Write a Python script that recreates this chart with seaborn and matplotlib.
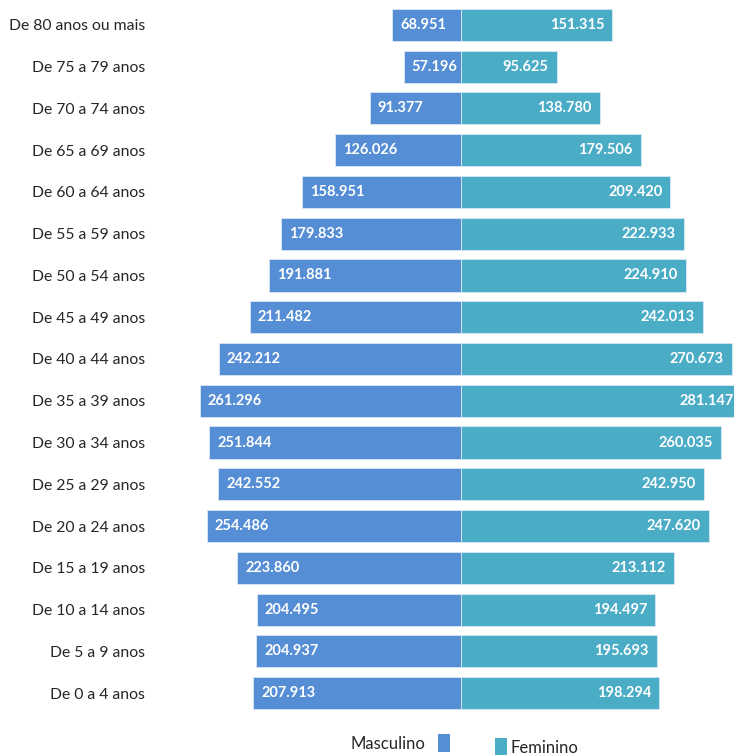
import numpy as np
import pandas as pd
import matplotlib
matplotlib.use('Agg')
import matplotlib.pyplot as plt
import matplotlib.patches as mpatches
import seaborn as sns

sns.set_style('white')
plt.rcParams['font.family'] = ['Lato', 'DejaVu Sans']

# faixas etarias, de cima para baixo
faixas = ['De 80 anos ou mais', 'De 75 a 79 anos', 'De 70 a 74 anos', 'De 65 a 69 anos',
          'De 60 a 64 anos', 'De 55 a 59 anos', 'De 50 a 54 anos', 'De 45 a 49 anos',
          'De 40 a 44 anos', 'De 35 a 39 anos', 'De 30 a 34 anos', 'De 25 a 29 anos',
          'De 20 a 24 anos', 'De 15 a 19 anos', 'De 10 a 14 anos', 'De 5 a 9 anos',
          'De 0 a 4 anos']
masculino = [68951, 57196, 91377, 126026, 158951, 179833, 191881, 211482, 242212,
             261296, 251844, 242552, 254486, 223860, 204495, 204937, 207913]
feminino = [151315, 95625, 138780, 179506, 209420, 222933, 224910, 242013, 270673,
            281147, 260035, 242950, 247620, 213112, 194497, 195693, 198294]

cor_m = '#558ED5'
cor_f = '#4BACC6'

df = pd.DataFrame({
    'faixa': faixas * 2,
    'valor': [-v for v in masculino] + feminino,
    'sexo': ['Masculino'] * len(faixas) + ['Feminino'] * len(faixas),
})

fig = plt.figure(figsize=(7.34, 7.55), dpi=100)
ax = fig.add_axes([155 / 734, 41 / 755, 1 - 155 / 734, 710 / 755])

sns.barplot(data=df, y='faixa', x='valor', hue='sexo', orient='h', dodge=False,
            palette={'Masculino': cor_m, 'Feminino': cor_f}, width=0.77, saturation=1,
            edgecolor='#dbe8f5', linewidth=0.6, legend=False, ax=ax)

def fmt(v):
    return f"{v:,}".replace(',', '.')

for i, (m, f) in enumerate(zip(masculino, feminino)):
    ax.text(-m + 8000, i, fmt(m), ha='left', va='center', color='white',
            fontsize=10.5, fontweight='bold')
    ax.text(f - 8000, i, fmt(f), ha='right', va='center', color='white',
            fontsize=10.5, fontweight='bold', clip_on=False)

ax.set_xlim(-306000, 273000)
ax.set_ylim(16.5, -0.5)
ax.set_xlabel('')
ax.set_ylabel('')
ax.set_xticks([])
ax.tick_params(axis='y', length=0, pad=7, labelsize=11.3)
for s in ax.spines.values():
    s.set_visible(False)
for p in ax.patches:
    p.set_clip_on(False)

h_m = mpatches.Patch(facecolor=cor_m, edgecolor='none', label='Masculino')
h_f = mpatches.Patch(facecolor=cor_f, edgecolor='none', label='Feminino')
fig.legend(handles=[h_m], loc='center right', bbox_to_anchor=(450 / 734, 12 / 755),
           frameon=False, markerfirst=False, borderpad=0, borderaxespad=0,
           handlelength=0.7, handleheight=1.2, handletextpad=0.8, fontsize=12)
fig.legend(handles=[h_f], loc='center left', bbox_to_anchor=(495 / 734, 8 / 755),
           frameon=False, borderpad=0, borderaxespad=0,
           handlelength=0.7, handleheight=1.2, handletextpad=0.25, fontsize=12)

fig.savefig('out.png', dpi=100)
